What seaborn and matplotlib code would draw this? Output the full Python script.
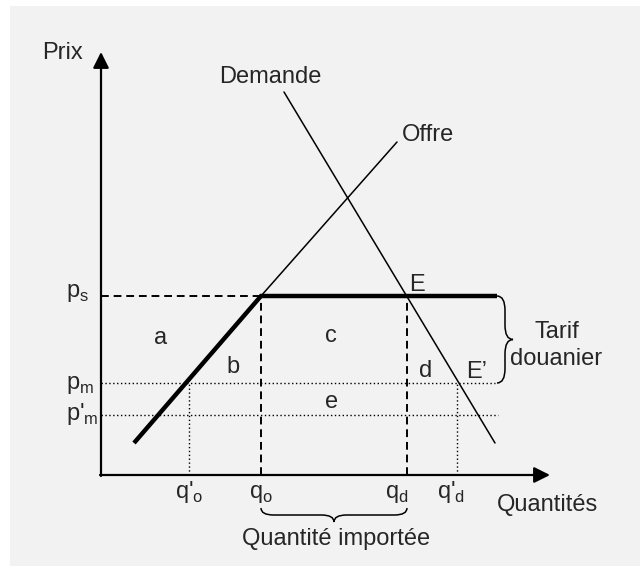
import numpy as np
import matplotlib.pyplot as plt
import seaborn as sns
from matplotlib.path import Path
from matplotlib.patches import PathPatch

sns.set_style("white")
plt.rcParams['font.family'] = ['Liberation Sans', 'DejaVu Sans']
plt.rcParams['mathtext.fontset'] = 'custom'
plt.rcParams['mathtext.rm'] = 'Liberation Sans'

# quantities and prices on the diagram
q_o2, q_o, q_d, q_d2 = 88, 160, 306, 356
p_s, p_m, p_m2 = 179, 92, 60
q_end = 396

offre_q = [33, q_o, 296]
offre_p = [32, p_s, 333]
demande_q = [183, 394]
demande_p = [383, 32]

fig = plt.figure(figsize=(6.4, 5.66), dpi=100)
fig.patch.set_facecolor('white')
ax = fig.add_axes([10 / 640, 0, 630 / 640, 560 / 566])
ax.set_facecolor('#f2f2f2')
ax.set_xlim(-91, 539)
ax.set_ylim(-91, 469)
ax.set_xticks([])
ax.set_yticks([])
for s in ax.spines.values():
    s.set_visible(False)

fs = 17

# axes with arrows
ax.annotate('', xy=(449, 0), xytext=(-1, 0),
            arrowprops=dict(arrowstyle='-|>', lw=1.6, color='black', mutation_scale=24,
                            shrinkA=0, shrinkB=0))
ax.annotate('', xy=(0, 423), xytext=(0, -1),
            arrowprops=dict(arrowstyle='-|>', lw=1.6, color='black', mutation_scale=24,
                            shrinkA=0, shrinkB=0))

# supply and demand
sns.lineplot(x=offre_q[1:], y=offre_p[1:], ax=ax, color='black', lw=1.1, sort=False)
sns.lineplot(x=demande_q, y=demande_p, ax=ax, color='black', lw=1.1, sort=False)
ax.plot(offre_q[:2] + [q_end], offre_p[:2] + [p_s], color='black', lw=3.2,
        solid_joinstyle='miter', solid_capstyle='butt')

# dashed and dotted guides
dash = dict(color='black', lw=1.4, ls=(0, (4, 2.5)))
dot = dict(color='black', lw=1.0, ls=(0, (1, 1.8)))
ax.plot([0, q_o], [p_s, p_s], **dash)
ax.plot([q_o, q_o], [0, p_s], **dash)
ax.plot([q_d, q_d], [0, p_s], **dash)
ax.plot([0, 394], [p_m, p_m], **dot)
ax.plot([0, 397], [p_m2, p_m2], **dot)
ax.plot([q_o2, q_o2], [0, p_m], **dot)
ax.plot([q_d2, q_d2], [0, p_m], **dot)


def brace(x0, x1, y, h, vertical=False, lw=1.1):
    m = (x0 + x1) / 2
    r = abs(h) * 0.9
    pts = [(x0, y), (x0, y - h / 2), (x0 + r, y - h / 2),
           (m - r, y - h / 2), (m, y - h / 2), (m, y - h),
           (m, y - h / 2), (m + r, y - h / 2),
           (x1 - r, y - h / 2), (x1, y - h / 2), (x1, y)]
    codes = [Path.MOVETO, Path.CURVE3, Path.CURVE3, Path.LINETO, Path.CURVE3, Path.CURVE3,
             Path.CURVE3, Path.CURVE3, Path.LINETO, Path.CURVE3, Path.CURVE3]
    if vertical:
        pts = [(b, a) for a, b in pts]
    ax.add_patch(PathPatch(Path(pts, codes), fill=False, lw=lw, color='black'))


brace(q_o, q_d, -33, 14)
brace(p_m, p_s, q_end, -16, vertical=True)

# labels
ax.text(-38, 416, 'Prix', fontsize=fs, ha='center', va='baseline')
ax.text(-35, 178, r'p$_\mathregular{s}$', fontsize=fs, ha='left', va='baseline')
ax.text(-35, 86, r'p$_\mathregular{m}$', fontsize=fs, ha='left', va='baseline')
ax.text(-35, 55, r"p'$_\mathregular{m}$", fontsize=fs, ha='left', va='baseline')
ax.text(q_o2, -23, r"q'$_\mathregular{o}$", fontsize=fs, ha='center', va='baseline')
ax.text(q_o, -23, r"q$_\mathregular{o}$", fontsize=fs, ha='center', va='baseline')
ax.text(q_d - 10, -23, r"q$_\mathregular{d}$", fontsize=fs, ha='center', va='baseline')
ax.text(q_d2 - 6, -23, r"q'$_\mathregular{d}$", fontsize=fs, ha='center', va='baseline')
ax.text(396, -36, 'Quantités', fontsize=fs, ha='left', va='baseline')
ax.text(235, -70, 'Quantité importée', fontsize=fs, ha='center', va='baseline')
ax.text(169, 392, 'Demande', fontsize=fs, ha='center', va='baseline')
ax.text(327, 334, 'Offre', fontsize=fs, ha='center', va='baseline')
ax.text(308, 184, 'E', fontsize=fs, ha='left', va='baseline')
ax.text(365, 97, 'E\u2019', fontsize=fs, ha='left', va='baseline')
ax.text(456, 137, 'Tarif', fontsize=fs, ha='center', va='baseline')
ax.text(455, 110, 'douanier', fontsize=fs, ha='center', va='baseline')
ax.text(60, 131, 'a', fontsize=fs, ha='center', va='baseline')
ax.text(132, 102, 'b', fontsize=fs, ha='center', va='baseline')
ax.text(230, 133, 'c', fontsize=fs, ha='center', va='baseline')
ax.text(325, 98, 'd', fontsize=fs, ha='center', va='baseline')
ax.text(231, 67, 'e', fontsize=fs, ha='center', va='baseline')

fig.savefig('out.png', dpi=100, facecolor=fig.get_facecolor())
